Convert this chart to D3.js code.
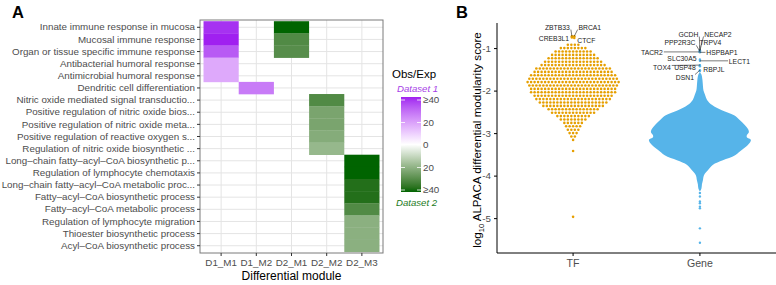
<!DOCTYPE html>
<html>
<head>
<meta charset="utf-8">
<script src="https://cdn.jsdelivr.net/npm/d3@7"></script>
<style>
  body { margin: 0; background: #fff; }
  svg { display: block; font-family: "Liberation Sans", Arial, sans-serif; }
</style>
</head>
<body>
<div id="chart"></div>
<script>
// ---------- Panel A data ----------
const terms = [
  "Innate immune response in mucosa",
  "Mucosal immune response",
  "Organ or tissue specific immune response",
  "Antibacterial humoral response",
  "Antimicrobial humoral response",
  "Dendritic cell differentiation",
  "Nitric oxide mediated signal transductio...",
  "Positive regulation of nitric oxide bios...",
  "Positive regulation of nitric oxide meta...",
  "Positive regulation of reactive oxygen s...",
  "Regulation of nitric oxide biosynthetic ...",
  "Long–chain fatty–acyl–CoA biosynthetic p...",
  "Regulation of lymphocyte chemotaxis",
  "Long–chain fatty–acyl–CoA metabolic proc...",
  "Fatty–acyl–CoA biosynthetic process",
  "Fatty–acyl–CoA metabolic process",
  "Regulation of lymphocyte migration",
  "Thioester biosynthetic process",
  "Acyl–CoA biosynthetic process"
];
const modules = ["D1_M1", "D1_M2", "D2_M1", "D2_M2", "D2_M3"];

// one entry per coloured tile; positive = Dataset 1, negative = Dataset 2
const tileModule = ["D1_M1","D1_M1","D1_M1","D1_M1","D1_M1",
  "D1_M2",
  "D2_M1","D2_M1","D2_M1",
  "D2_M2","D2_M2","D2_M2","D2_M2","D2_M2",
  "D2_M3","D2_M3","D2_M3","D2_M3","D2_M3","D2_M3","D2_M3","D2_M3"];
const tileTerm = [0,1,2,3,4, 5, 0,1,2, 6,7,8,9,10, 11,12,13,14,15,16,17,18];
const tileObsExp = [38, 40, 32, 17, 17,
  26,
  -42, -30, -29,
  -30, -23, -23, -21, -18,
  -45, -45, -37, -37, -30, -20, -20, -20];

const legendTicks = [40, 20, 0, -20, -40];
const legendLabels = ["≥40", "20", "0", "20", "≥40"];

// ---------- Panel B data ----------
const groups = ["TF", "Gene"];
const scoreTicks = [-1, -2, -3, -4, -5];

// TF beeswarm: number of TFs in each score row
const tfLevels = [-0.92,-1.00,-1.08,-1.16,-1.24,-1.32,-1.40,-1.48,-1.56,-1.64,-1.72,-1.80,
  -1.88,-1.96,-2.04,-2.12,-2.20,-2.28,-2.36,-2.44,-2.52,-2.60,-2.68,-2.76,-2.84,-2.92,-3.00,-3.08,-3.16];
const tfCounts = [4,8,11,13,15,17,19,22,23,25,26,27,26,25,25,23,22,20,18,15,13,10,8,6,5,4,3,2,1];
const tfOutliers = [-3.42, -4.97];
const tfNamed = ["ZBTB33", "BRCA1", "CREB3L1", "CTCF"];
const tfNamedScore = [-0.72, -0.72, -0.75, -0.76];

// Gene swarm is so dense it reads as a filled shape: relative width per score
const geneLevels = [-1.56,-1.62,-1.75,-1.90,-2.00,-2.10,-2.22,-2.34,-2.46,-2.58,-2.69,-2.81,-2.90,-2.98,
  -3.05,-3.10,-3.16,-3.28,-3.40,-3.52,-3.64,-3.75,-3.87,-3.99,-4.10,-4.20,-4.30,-4.37];
const geneDensity = [0,0.03,0.05,0.06,0.07,0.10,0.14,0.24,0.43,0.67,0.78,0.88,0.94,0.96,
  0.92,0.92,1.00,0.94,0.82,0.69,0.45,0.25,0.16,0.08,0.06,0.04,0.03,0];
const geneSparse = [-1.54, -4.41, -4.49, -4.61, -4.65, -4.73, -4.77, -5.24, -5.58];
const geneNamed = ["GCDH","NECAP2","PPP2R3C","TRPV4","TACR2","HSPBAP1",
  "SLC30A5","LECT1","TOX4","USP48","RBPJL","DSN1"];
const geneNamedScore = [-1.05,-1.06,-1.08,-1.08,-1.09,-1.10,-1.27,-1.30,-1.40,-1.41,-1.43,-1.52];

// label placement (pixel offsets of label centre from its point, like ggrepel output)
const tfLabelOffset = [[-14.5,-9],[15.5,-9],[-18,1.5],[12,3]];
const geneLabelOffset = [[-11.5,-16],[18,-16.5],[-20,-8.5],[10.5,-8.5],[-48,1],[22,0.7],
  [-18,-0.5],[39.5,1],[-38,3],[-15,2.6],[14,3.7],[-15,7]];

// ---------- setup ----------
const W = 776, H = 285;
const svg = d3.select("#chart").append("svg")
  .attr("width", W).attr("height", H);
svg.append("rect").attr("width", W).attr("height", H).attr("fill", "#fff");

const grey = "#4d4d4d";

// panel letters
svg.append("text").attr("x", 12).attr("y", 18).text("A")
  .attr("font-size", 16.5).attr("font-weight", "bold");
svg.append("text").attr("x", 456).attr("y", 18).text("B")
  .attr("font-size", 16.5).attr("font-weight", "bold");

// ================= Panel A: heatmap =================
const hm = { left: 200, right: 383, top: 20, bottom: 253 };

const x = d3.scaleBand().domain(modules).range([hm.left, hm.right])
  .paddingInner(0).paddingOuter(0.1);
const y = d3.scaleBand().domain(terms).range([hm.top, hm.bottom])
  .paddingInner(0).paddingOuter(0.1);

const color = d3.scaleLinear().domain([-40, 0, 40])
  .range(["#006400", "#ffffff", "#a020f0"])
  .interpolate(d3.interpolateLab).clamp(true);

const gA = svg.append("g");

// grid
gA.selectAll(".vgrid").data(modules).enter().append("line")
  .attr("x1", d => x(d) + x.bandwidth() / 2).attr("x2", d => x(d) + x.bandwidth() / 2)
  .attr("y1", hm.top).attr("y2", hm.bottom)
  .attr("stroke", "#e4e4e4").attr("stroke-width", 1);
gA.selectAll(".hgrid").data(terms).enter().append("line")
  .attr("y1", d => y(d) + y.bandwidth() / 2).attr("y2", d => y(d) + y.bandwidth() / 2)
  .attr("x1", hm.left).attr("x2", hm.right)
  .attr("stroke", "#e4e4e4").attr("stroke-width", 1);

// tiles
const tiles = tileObsExp.map((v, i) => ({ m: tileModule[i], t: terms[tileTerm[i]], v }));
gA.selectAll(".tile").data(tiles).enter().append("rect")
  .attr("x", d => x(d.m))
  .attr("y", d => y(d.t))
  .attr("width", x.bandwidth())
  .attr("height", y.bandwidth() + 0.3)
  .attr("fill", d => color(d.v));

// border
gA.append("rect").attr("x", hm.left).attr("y", hm.top)
  .attr("width", hm.right - hm.left).attr("height", hm.bottom - hm.top)
  .attr("fill", "none").attr("stroke", "#7a7a7a").attr("stroke-width", 1);

// axes
const axL = gA.append("g").attr("transform", `translate(${hm.left},0)`)
  .call(d3.axisLeft(y).tickSize(3).tickPadding(2));
const axB = gA.append("g").attr("transform", `translate(0,${hm.bottom})`)
  .call(d3.axisBottom(x).tickSize(3).tickPadding(3));
[axL, axB].forEach(a => {
  a.select(".domain").remove();
  a.selectAll("line").attr("stroke", "#333");
  a.selectAll("text").attr("fill", grey).attr("font-size", 9.8)
    .attr("font-family", "Liberation Sans, Arial, sans-serif");
});

gA.append("text").attr("x", (hm.left + hm.right) / 2).attr("y", 280)
  .attr("text-anchor", "middle").attr("font-size", 12).text("Differential module");

// legend
const lg = { x: 401, w: 20, top: 97, bottom: 192 };
const grad = svg.append("defs").append("linearGradient").attr("id", "lgGrad")
  .attr("x1", 0).attr("x2", 0).attr("y1", 0).attr("y2", 1);
d3.range(0, 1.0001, 0.05).forEach(t => {
  grad.append("stop").attr("offset", t).attr("stop-color", color(40 - 80 * t));
});
const ly = d3.scaleLinear().domain([40, -40]).range([lg.top + 3, lg.bottom - 2]);

svg.append("text").attr("x", 392).attr("y", 78).attr("font-size", 11.5).text("Obs/Exp");
svg.append("text").attr("x", 397).attr("y", 92).attr("font-size", 9.6)
  .attr("font-style", "italic").attr("fill", "#a63de6").text("Dataset 1");
svg.append("rect").attr("x", lg.x).attr("y", lg.top).attr("width", lg.w)
  .attr("height", lg.bottom - lg.top).attr("fill", "url(#lgGrad)");
legendTicks.forEach((v, i) => {
  svg.append("line").attr("x1", lg.x).attr("x2", lg.x + 4)
    .attr("y1", ly(v)).attr("y2", ly(v)).attr("stroke", "#fff").attr("stroke-width", 0.8);
  svg.append("line").attr("x1", lg.x + lg.w - 4).attr("x2", lg.x + lg.w)
    .attr("y1", ly(v)).attr("y2", ly(v)).attr("stroke", "#fff").attr("stroke-width", 0.8);
  svg.append("text").attr("x", lg.x + lg.w + 2).attr("y", ly(v)).attr("dy", "0.35em")
    .attr("font-size", 9.8).attr("fill", grey).text(legendLabels[i]);
});
svg.append("text").attr("x", 396).attr("y", 206).attr("font-size", 9.6)
  .attr("font-style", "italic").attr("fill", "#1b7a1b").text("Dataset 2");

// ================= Panel B: swarm =================
const sb = { left: 497, right: 776, top: 23, bottom: 253 };
const xb = d3.scaleBand().domain(groups).range([sb.left, sb.right])
  .paddingInner(0).paddingOuter(0.1);
const yb = d3.scaleLinear().domain([-5.82, -0.41]).range([sb.bottom, sb.top]);
const cx = g => xb(g) + xb.bandwidth() / 2;

const gB = svg.append("g");

// gene body
const geneRows = geneLevels.map((l, i) => ({ l, d: geneDensity[i] }));
const wScale = d3.scaleLinear().domain([0, 1]).range([0, 51]);
gB.append("path").datum(geneRows)
  .attr("d", d3.area()
    .y(d => yb(d.l))
    .x0(d => cx("Gene") - wScale(d.d))
    .x1(d => cx("Gene") + wScale(d.d))
    .curve(d3.curveCatmullRom))
  .attr("fill", "#56b4e9");

const genePts = geneSparse.concat(geneNamedScore);
gB.selectAll(".gpt").data(genePts).enter().append("circle")
  .attr("cx", cx("Gene")).attr("cy", d => yb(d)).attr("r", 1.2).attr("fill", "#56b4e9");

// TF swarm rows
const dx = 3.5;
const tfPts = [];
tfLevels.forEach((l, i) => {
  const n = tfCounts[i];
  for (let j = 0; j < n; j++) tfPts.push({ x: cx("TF") + (j - (n - 1) / 2) * dx, v: l });
});
tfOutliers.forEach(v => tfPts.push({ x: cx("TF"), v }));
tfNamedScore.forEach((v, i) => tfPts.push({ x: cx("TF") + (i % 2 ? 1.2 : -1.2), v }));
gB.selectAll(".tpt").data(tfPts).enter().append("circle")
  .attr("cx", d => d.x).attr("cy", d => yb(d.v)).attr("r", 1.3).attr("fill", "#e69f00");

// axes
const axY = gB.append("g").attr("transform", `translate(${sb.left},0)`)
  .call(d3.axisLeft(yb).tickValues(scoreTicks).tickFormat(d => String(d)).tickSize(3).tickPadding(3));
const axX = gB.append("g").attr("transform", `translate(0,${sb.bottom})`)
  .call(d3.axisBottom(xb).tickSize(3).tickPadding(3));
axY.select(".domain").attr("d", `M0,${sb.top}V${sb.bottom}`);
axX.select(".domain").attr("d", `M${sb.left},0H${sb.right}`);
[axY, axX].forEach(a => {
  a.select(".domain").attr("stroke", "#000").attr("stroke-width", 1);
  a.selectAll(".tick line").attr("stroke", "#000");
  a.selectAll("text").attr("fill", grey)
    .attr("font-family", "Liberation Sans, Arial, sans-serif");
});
axY.selectAll("text").attr("font-size", 9.8);
axX.selectAll("text").attr("font-size", 10.6);

// y title with subscript
const yt = gB.append("text").attr("transform", `translate(481,${(sb.top + sb.bottom) / 2 + 2}) rotate(-90)`)
  .attr("text-anchor", "middle").attr("font-size", 11.6);
yt.append("tspan").text("log");
yt.append("tspan").attr("font-size", 7.5).attr("dy", 3).text("10");
yt.append("tspan").attr("dy", -3).text(" ALPACA differential modularity score");

// repel-style labels: segments underneath, text on top
const segLayer = gB.append("g");
const labLayer = gB.append("g");
function drawLabels(names, scores, offsets, group, altShift) {
  names.forEach((name, i) => {
    const px = cx(group) + (altShift ? (i % 2 ? 1.2 : -1.2) : 0);
    const py = yb(scores[i]);
    const lx = px + offsets[i][0], ly2 = py + offsets[i][1];
    const t = labLayer.append("text").attr("x", lx).attr("y", ly2).attr("dy", "0.35em")
      .attr("text-anchor", "middle").attr("font-size", 6.8).attr("fill", "#222").text(name);
    const bb = t.node().getBBox();
    const ex = Math.max(bb.x - 0.8, Math.min(px, bb.x + bb.width + 0.8));
    const ey = Math.max(bb.y + 1, Math.min(py, bb.y + bb.height - 1));
    if (Math.hypot(ex - px, ey - py) > 5) {
      segLayer.append("line").attr("x1", px).attr("y1", py).attr("x2", ex).attr("y2", ey)
        .attr("stroke", "#222").attr("stroke-width", 0.6);
    }
  });
}
drawLabels(tfNamed, tfNamedScore, tfLabelOffset, "TF", true);
drawLabels(geneNamed, geneNamedScore, geneLabelOffset, "Gene", false);
</script>
</body>
</html>
